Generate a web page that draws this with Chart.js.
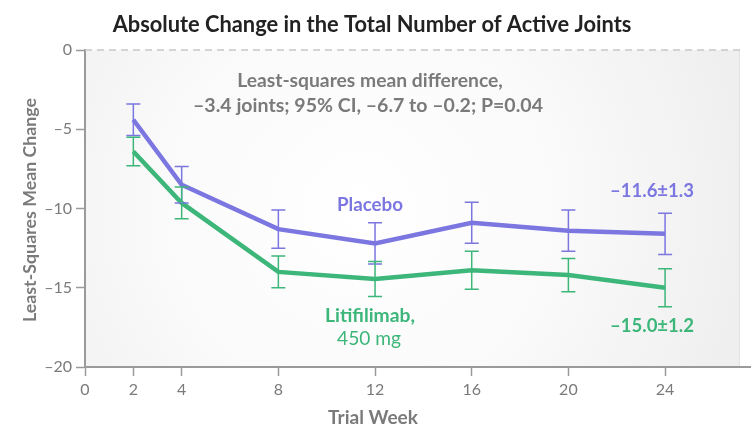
<!DOCTYPE html>
<html><head><meta charset="utf-8">
<script src="https://cdn.jsdelivr.net/npm/chart.js@4"></script>
<style>html,body{margin:0;padding:0;background:#fff}</style>
</head><body>
<canvas id="c" width="751" height="445" style="width:751px;height:445px;display:block"></canvas>
<script>
const weeks=[2,4,8,12,16,20,24];
const placebo=[-4.4,-8.5,-11.3,-12.2,-10.9,-11.4,-11.6];
const placeboErr=[1.0,1.15,1.2,1.3,1.3,1.3,1.3];
const litifilimab=[-6.4,-9.65,-14.0,-14.45,-13.9,-14.2,-15.0];
const litifilimabErr=[0.9,1.0,1.0,1.1,1.2,1.05,1.2];
const xTicks=[0,2,4,8,12,16,20,24];
const yTicks=[0,-5,-10,-15,-20];

const PURPLE='#7b76e0', GREEN='#3db67a', GRAY='#7a7a7a', AXIS='#9a9a9a';
const FONT='Lato, "Open Sans", sans-serif';
const dash=v=>v<0?'\u2013'+Math.abs(v):String(v);

const bgPlugin={id:'bg',beforeDatasetsDraw(chart){
  const {ctx,chartArea:a}=chart;ctx.save();
  const cx=a.left+(a.right-a.left)*0.42, cy=(a.top+a.bottom)/2;
  const g=ctx.createRadialGradient(cx,cy,0,cx,cy,(a.right-a.left)*0.6);
  g.addColorStop(0,'#ffffff');g.addColorStop(0.5,'#fafafa');g.addColorStop(1,'#efefef');
  ctx.fillStyle=g;ctx.fillRect(a.left+1,a.top,a.right-a.left-1,a.bottom-a.top-1);
  ctx.strokeStyle='#e2e2e2';ctx.lineWidth=1;
  ctx.beginPath();ctx.moveTo(a.right-0.5,a.top);ctx.lineTo(a.right-0.5,a.bottom);ctx.stroke();
  const y0=chart.scales.y.getPixelForValue(0);
  ctx.strokeStyle='#c8c8c8';ctx.lineWidth=1.5;ctx.setLineDash([7,5]);
  ctx.beginPath();ctx.moveTo(a.left,y0);ctx.lineTo(a.right,y0);ctx.stroke();
  ctx.setLineDash([]);ctx.strokeStyle=AXIS;ctx.lineWidth=2;
  ctx.beginPath();ctx.moveTo(a.right-1,a.bottom);ctx.lineTo(chart.width,a.bottom);ctx.stroke();
  ctx.restore();
}};
const errPlugin={id:'err',afterDatasetsDraw(chart){
  const {ctx}=chart;const xs=chart.scales.x, ys=chart.scales.y;
  chart.data.datasets.forEach(ds=>{
    ctx.save();ctx.strokeStyle=ds.borderColor;ctx.lineWidth=1.5;
    ds.data.forEach((p,i)=>{
      const e=ds.errors[i];const x=xs.getPixelForValue(p.x);
      const t=ys.getPixelForValue(p.y+e), b=ys.getPixelForValue(p.y-e);
      ctx.beginPath();ctx.moveTo(x,t);ctx.lineTo(x,b);
      ctx.moveTo(x-7,t);ctx.lineTo(x+7,t);ctx.moveTo(x-7,b);ctx.lineTo(x+7,b);ctx.stroke();
    });
    ctx.restore();
  });
}};
// draw text centred at (x,y), sized so its width matches w
function txt(ctx,s,x,y,weight,w,color,rot){
  ctx.save();
  ctx.font=weight+' 100px '+FONT;
  const size=100*w/ctx.measureText(s).width;
  ctx.font=weight+' '+size.toFixed(2)+'px '+FONT;
  ctx.fillStyle=color;ctx.textAlign='center';ctx.textBaseline='middle';
  ctx.translate(x,y);if(rot)ctx.rotate(rot);ctx.fillText(s,0,0);ctx.restore();
}
const textPlugin={id:'txt',afterDraw(chart){
  const ctx=chart.ctx;
  txt(ctx,'Absolute Change in the Total Number of Active Joints',372,25,'bold',519,'#222');
  txt(ctx,'Least-squares mean difference,',370,81,'bold',266,GRAY);
  txt(ctx,'\u20133.4 joints; 95% CI, \u20136.7 to \u20130.2; P=0.04',368,106,'bold',350,GRAY);
  txt(ctx,'Placebo',370,205,'bold',66,PURPLE);
  txt(ctx,'Litifilimab,',370,316,'bold',90,GREEN);
  txt(ctx,'450 mg',369,339,'normal',64,GREEN);
  txt(ctx,'\u201311.6\u00b11.3',652,191,'bold',84,PURPLE);
  txt(ctx,'\u201315.0\u00b11.2',652,326,'bold',84,GREEN);
  txt(ctx,'Least-Squares Mean Change',30,210,'bold',224,GRAY,-Math.PI/2);
  txt(ctx,'Trial Week',373,418,'bold',90,GRAY);
}};

new Chart(document.getElementById('c'),{
  type:'line',
  data:{datasets:[
    {label:'Placebo',data:weeks.map((w,i)=>({x:w,y:placebo[i]})),errors:placeboErr,borderColor:PURPLE,borderWidth:4.5,pointRadius:0,tension:0,fill:false},
    {label:'Litifilimab, 450 mg',data:weeks.map((w,i)=>({x:w,y:litifilimab[i]})),errors:litifilimabErr,borderColor:GREEN,borderWidth:4.5,pointRadius:0,tension:0,fill:false}
  ]},
  options:{
    responsive:false,animation:false,devicePixelRatio:1,
    layout:{padding:{top:50,right:11,left:0,bottom:0}},
    plugins:{legend:{display:false},tooltip:{enabled:false},title:{display:false}},
    scales:{
      x:{type:'linear',min:0,max:27.1,
        afterBuildTicks:s=>{s.ticks=xTicks.map(v=>({value:v}));},
        afterFit:s=>{s.height=78;},
        ticks:{color:GRAY,font:{family:FONT,size:16},padding:4,callback:v=>dash(v),maxRotation:0,autoSkip:false},
        grid:{drawOnChartArea:false,drawTicks:true,tickLength:9,tickColor:AXIS,tickWidth:1.5},
        border:{color:AXIS,width:2}},
      y:{type:'linear',min:-20,max:0,
        afterBuildTicks:s=>{s.ticks=yTicks.map(v=>({value:v}));},
        afterFit:s=>{s.width=85;},
        ticks:{color:GRAY,font:{family:FONT,size:16},padding:4,callback:v=>dash(v),autoSkip:false},
        grid:{drawOnChartArea:false,drawTicks:true,tickLength:9,tickColor:AXIS,tickWidth:1.5},
        border:{color:AXIS,width:2}}
    }
  },
  plugins:[bgPlugin,errPlugin,textPlugin]
});
</script>
</body></html>
